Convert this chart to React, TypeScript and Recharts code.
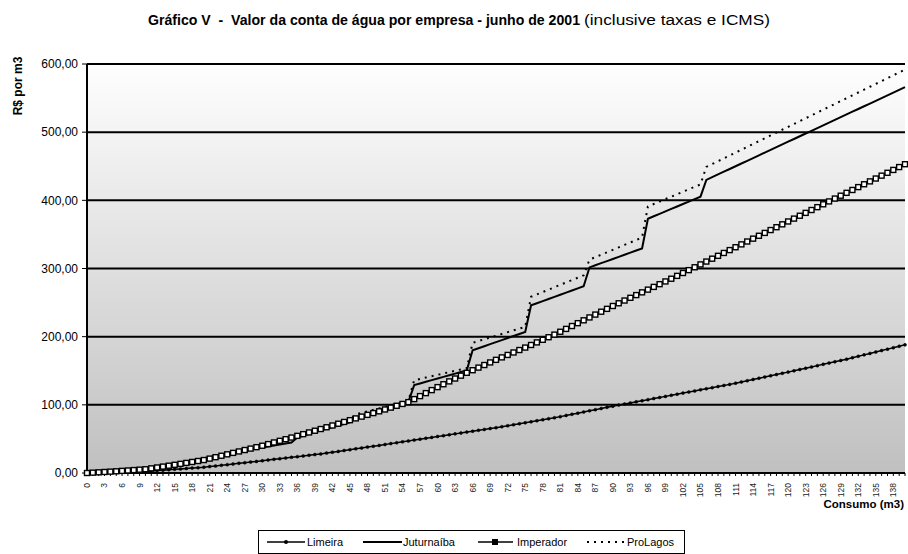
import { LineChart, Line, XAxis, YAxis, CartesianGrid } from 'recharts';

// R$ values, one per m3 from 0 to 140
const limeira = [
  0, 0.2, 0.5, 0.7, 1.0, 1.2, 1.5, 1.7, 2.0, 2.2,
  2.5, 3.0, 3.6, 4.2, 4.8, 5.4, 6.0, 6.6, 7.2, 7.8,
  8.5, 9.4, 10.3, 11.3, 12.2, 13.2, 14.2, 15.1, 16.1, 17.0,
  18.0, 19.0, 20.0, 21.0, 22.0, 23.0, 24.0, 25.0, 26.0, 27.0,
  28.0, 29.2, 30.5, 31.7, 33.0, 34.2, 35.5, 36.7, 38.0, 39.2,
  40.5, 41.8, 43.1, 44.4, 45.7, 47.0, 48.3, 49.6, 50.9, 52.2,
  53.5, 54.8, 56.1, 57.4, 58.7, 60.0, 61.3, 62.6, 63.9, 65.2,
  66.5, 67.9, 69.3, 70.8, 72.3, 73.7, 75.2, 76.7, 78.1, 79.6,
  81.0, 82.7, 84.4, 86.1, 87.8, 89.5, 91.2, 92.9, 94.6, 96.3,
  98.0, 99.6, 101.2, 102.8, 104.4, 106.0, 107.6, 109.2, 110.8, 112.4,
  114.0, 115.6, 117.2, 118.8, 120.4, 122.0, 123.6, 125.2, 126.8, 128.4,
  130.0, 131.8, 133.6, 135.4, 137.2, 139.0, 140.8, 142.6, 144.4, 146.2,
  148.0, 149.9, 151.8, 153.7, 155.6, 157.5, 159.4, 161.3, 163.2, 165.1,
  167.0, 169.1, 171.2, 173.3, 175.4, 177.5, 179.6, 181.7, 183.8, 185.9,
  188.0,
];

const juturnaiba = [
  0, 0.5, 1.0, 1.5, 2.0, 2.5, 3.0, 3.5, 4.0, 4.5,
  5.0, 6.0, 7.0, 8.0, 9.0, 10.0, 13.5, 15.2, 16.9, 18.6,
  20.3, 22.0, 23.7, 25.4, 27.1, 28.8, 30.5, 32.2, 33.9, 35.6,
  37.3, 38.8, 40.3, 41.8, 43.3, 44.8, 52.0, 54.6, 57.2, 59.8,
  62.4, 64.8, 67.2, 69.6, 72.0, 74.4, 81.0, 83.6, 86.2, 88.8,
  91.4, 94.0, 96.6, 99.2, 101.8, 104.4, 129.0, 131.4, 133.8, 136.2,
  138.6, 141.0, 143.4, 145.8, 148.2, 150.6, 180.0, 183.0, 186.0, 189.0,
  192.0, 195.0, 198.0, 201.0, 204.0, 207.0, 246.0, 249.1, 252.2, 255.3,
  258.4, 261.5, 264.6, 267.7, 270.8, 274.0, 301.6, 304.7, 307.8, 310.9,
  314.0, 317.1, 320.2, 323.3, 326.4, 329.5, 373.0, 376.6, 380.2, 383.8,
  387.4, 391.0, 394.6, 398.2, 401.8, 405.4, 430.0, 434.0, 438.0, 442.0,
  446, 450, 454, 458, 462, 466, 470, 474, 478, 482,
  486, 490, 494, 498, 502, 506, 510, 514, 518, 522,
  526, 530, 534, 538, 542, 546, 550, 554, 558, 562,
  566,
];

const imperador = [
  0, 0.5, 1.0, 1.5, 2.0, 2.5, 3.1, 3.7, 4.3, 4.9,
  5.5, 6.8, 8.1, 9.4, 10.7, 12.0, 13.4, 14.8, 16.2, 17.6,
  19.0, 21.1, 23.2, 25.3, 27.4, 29.5, 31.6, 33.7, 35.8, 37.9,
  40.0, 42.4, 44.8, 47.2, 49.6, 52.0, 54.5, 57.0, 59.5, 62.0,
  64.5, 67.1, 69.7, 72.3, 74.9, 77.5, 80.1, 82.7, 85.3, 87.9,
  90.5, 93.2, 95.9, 98.6, 101.3, 104.0, 108.4, 112.8, 117.2, 121.6,
  126.0, 130.2, 134.4, 138.6, 142.8, 147.0, 150.8, 154.6, 158.4, 162.2,
  166.0, 169.6, 173.2, 176.8, 180.4, 184.0, 187.8, 191.6, 195.4, 199.2,
  203.0, 207.2, 211.4, 215.6, 219.8, 224.0, 228.2, 232.4, 236.6, 240.8,
  245.0, 249.0, 253.0, 257.0, 261.0, 265.0, 269.0, 273.0, 277.0, 281.0,
  285.0, 289.2, 293.4, 297.6, 301.8, 306.0, 310.2, 314.4, 318.6, 322.8,
  327.0, 331.2, 335.4, 339.6, 343.8, 348.0, 352.2, 356.4, 360.6, 364.8,
  369.0, 373.2, 377.4, 381.6, 385.8, 390.0, 394.2, 398.4, 402.6, 406.8,
  411.0, 415.2, 419.4, 423.6, 427.8, 432.0, 436.2, 440.4, 444.6, 448.8,
  453.0,
];

const proLagos = [
  0, 0.6, 1.2, 1.8, 2.4, 3.0, 3.6, 4.2, 4.8, 5.4,
  6.0, 7.2, 8.4, 9.6, 10.8, 12.0, 14.5, 16.3, 18.1, 19.9,
  21.7, 23.5, 25.3, 27.1, 28.9, 30.7, 32.5, 34.3, 36.1, 37.9,
  39.7, 41.5, 43.3, 45.1, 46.9, 48.7, 54.0, 56.7, 59.4, 62.1,
  64.8, 67.5, 70.2, 72.9, 75.6, 78.3, 86.0, 88.2, 90.4, 92.6,
  94.8, 97.0, 99.2, 101.4, 103.6, 105.8, 136.0, 138.0, 140.0, 142.0,
  144.0, 146.0, 148.0, 150.0, 152.0, 154.0, 191.0, 193.6, 196.2, 198.8,
  201.4, 204.0, 206.6, 209.2, 211.8, 214.4, 258.5, 262.0, 265.5, 269.0,
  272.5, 276.0, 279.5, 283.0, 286.5, 290.0, 313.0, 316.6, 320.2, 323.8,
  327.4, 331.0, 334.6, 338.2, 341.8, 345.4, 391.0, 394.6, 398.2, 401.8,
  405.4, 409.0, 412.6, 416.2, 419.8, 423.4, 449.0, 453.2, 457.4, 461.6,
  465.8, 470.0, 474.2, 478.4, 482.6, 486.8, 491.0, 495.2, 499.4, 503.6,
  507.8, 512.0, 516.2, 520.4, 524.6, 528.8, 533.0, 537.2, 541.4, 545.6,
  549.8, 554.0, 558.2, 562.4, 566.6, 570.8, 575.0, 579.2, 583.4, 587.6,
  591.8,
];

const yTicks = [0, 100, 200, 300, 400, 500, 600];

// consumption in m3 is just the position in the arrays
const consumo = limeira.map((_, i) => i);

const data = consumo.map((c, i) => ({
  consumo: c,
  Limeira: limeira[i],
  Juturnaiba: juturnaiba[i],
  Imperador: imperador[i],
  ProLagos: proLagos[i],
}));

const FONT = 'Arial, "Liberation Sans", sans-serif';

// only every third category gets a label, like the original
const XTick = (props: any) => {
  const { x, y, payload } = props;
  const v = payload.value;
  if (v % 3 !== 0 || v > 138) return null;
  const ty = y + 5;
  return (
    <text
      x={x}
      y={ty}
      transform={`rotate(-90, ${x}, ${ty})`}
      textAnchor="end"
      dy="0.35em"
      fontSize={8.5}
      fontFamily={FONT}
      fill="#222"
    >
      {v}
    </text>
  );
};

const SquareDot = (props: any) => {
  const { cx, cy, index } = props;
  if (cx == null || cy == null) return null;
  return (
    <rect
      key={`imp-${index}`}
      x={cx - 2.5}
      y={cy - 2.5}
      width={5}
      height={5}
      fill="#fff"
      stroke="#000"
      strokeWidth={1.4}
    />
  );
};

const App = () => {
  return (
    <div
      style={{
        position: 'absolute',
        left: 0,
        top: 0,
        width: 908,
        height: 554,
        background: '#fff',
        fontFamily: FONT,
      }}
    >
      <LineChart
        width={908}
        height={554}
        data={data}
        margin={{ top: 64, right: 3, bottom: 51, left: 0 }}
      >
        <defs>
          <linearGradient id="plotBg" x1="0" y1="0" x2="0" y2="1">
            <stop offset="0%" stopColor="#fefefe" />
            <stop offset="100%" stopColor="#c0c0c0" />
          </linearGradient>
        </defs>
        <CartesianGrid
          vertical={false}
          stroke="#000"
          strokeWidth={2}
          fill="url(#plotBg)"
          fillOpacity={1}
        />
        <XAxis
          dataKey="consumo"
          type="number"
          domain={[0, 140]}
          ticks={consumo}
          interval={0}
          height={30}
          tickSize={3}
          tick={<XTick />}
          tickLine={{ stroke: '#000' }}
          axisLine={{ stroke: '#000', strokeWidth: 2 }}
        />
        <YAxis
          domain={[0, 600]}
          ticks={yTicks}
          width={87}
          tickSize={5}
          tickMargin={4}
          tickFormatter={(v: number) => v.toFixed(2).replace('.', ',')}
          tick={{ fontSize: 12, fill: '#000', fontFamily: FONT }}
          tickLine={{ stroke: '#000' }}
          axisLine={{ stroke: '#000', strokeWidth: 2 }}
        />
        <YAxis
          yAxisId="right"
          orientation="right"
          domain={[0, 600]}
          width={0}
          tick={false}
          tickLine={false}
          axisLine={{ stroke: '#000', strokeWidth: 2 }}
        />
        <Line
          dataKey="Limeira"
          stroke="#000"
          strokeWidth={1.5}
          dot={{ r: 1.5, fill: '#000', stroke: '#000', strokeWidth: 0.5 }}
          isAnimationActive={false}
        />
        <Line
          dataKey="Juturnaiba"
          stroke="#000"
          strokeWidth={2}
          dot={false}
          isAnimationActive={false}
        />
        <Line
          dataKey="Imperador"
          stroke="#000"
          strokeWidth={1.5}
          dot={<SquareDot />}
          isAnimationActive={false}
        />
        <Line
          dataKey="ProLagos"
          stroke="#000"
          strokeWidth={2}
          strokeDasharray="2 5"
          dot={false}
          isAnimationActive={false}
        />
      </LineChart>

      {/* titles and legend drawn on top */}
      <svg
        width={908}
        height={554}
        style={{ position: 'absolute', left: 0, top: 0, pointerEvents: 'none' }}
        fontFamily={FONT}
      >
        <text x={148} y={25} fontSize={14} fontWeight="bold" textLength={432} lengthAdjust="spacingAndGlyphs" style={{ whiteSpace: 'pre' }}>
          Gráfico V  -  Valor da conta de água por empresa - junho de 2001
        </text>
        <text x={584} y={25} fontSize={14} textLength={186} lengthAdjust="spacingAndGlyphs">
          (inclusive taxas e ICMS)
        </text>
        <text
          x={22}
          y={86}
          transform="rotate(-90, 22, 86)"
          textAnchor="middle"
          fontSize={12}
          fontWeight="bold"
        >
          R$ por m3
        </text>
        <text x={904} y={508} fontSize={11.5} fontWeight="bold" textAnchor="end">
          Consumo (m3)
        </text>

        <rect x={258.5} y={530.5} width={426} height={23} fill="#fff" stroke="#000" />
        <line x1={267} y1={542} x2={305} y2={542} stroke="#000" strokeWidth={1.5} />
        <circle cx={286} cy={542} r={2} fill="#000" />
        <text x={307} y={546} fontSize={11}>Limeira</text>
        <line x1={363} y1={542} x2={402} y2={542} stroke="#000" strokeWidth={2} />
        <text x={403} y={546} fontSize={11}>Juturnaíba</text>
        <line x1={478} y1={542} x2={513} y2={542} stroke="#000" strokeWidth={1.5} />
        <rect x={492} y={539} width={6} height={6} fill="#000" />
        <text x={517} y={546} fontSize={11}>Imperador</text>
        <line x1={587} y1={542} x2={625} y2={542} stroke="#000" strokeWidth={2} strokeDasharray="2 5" />
        <text x={627} y={546} fontSize={11}>ProLagos</text>
      </svg>
    </div>
  );
};

export default App;
